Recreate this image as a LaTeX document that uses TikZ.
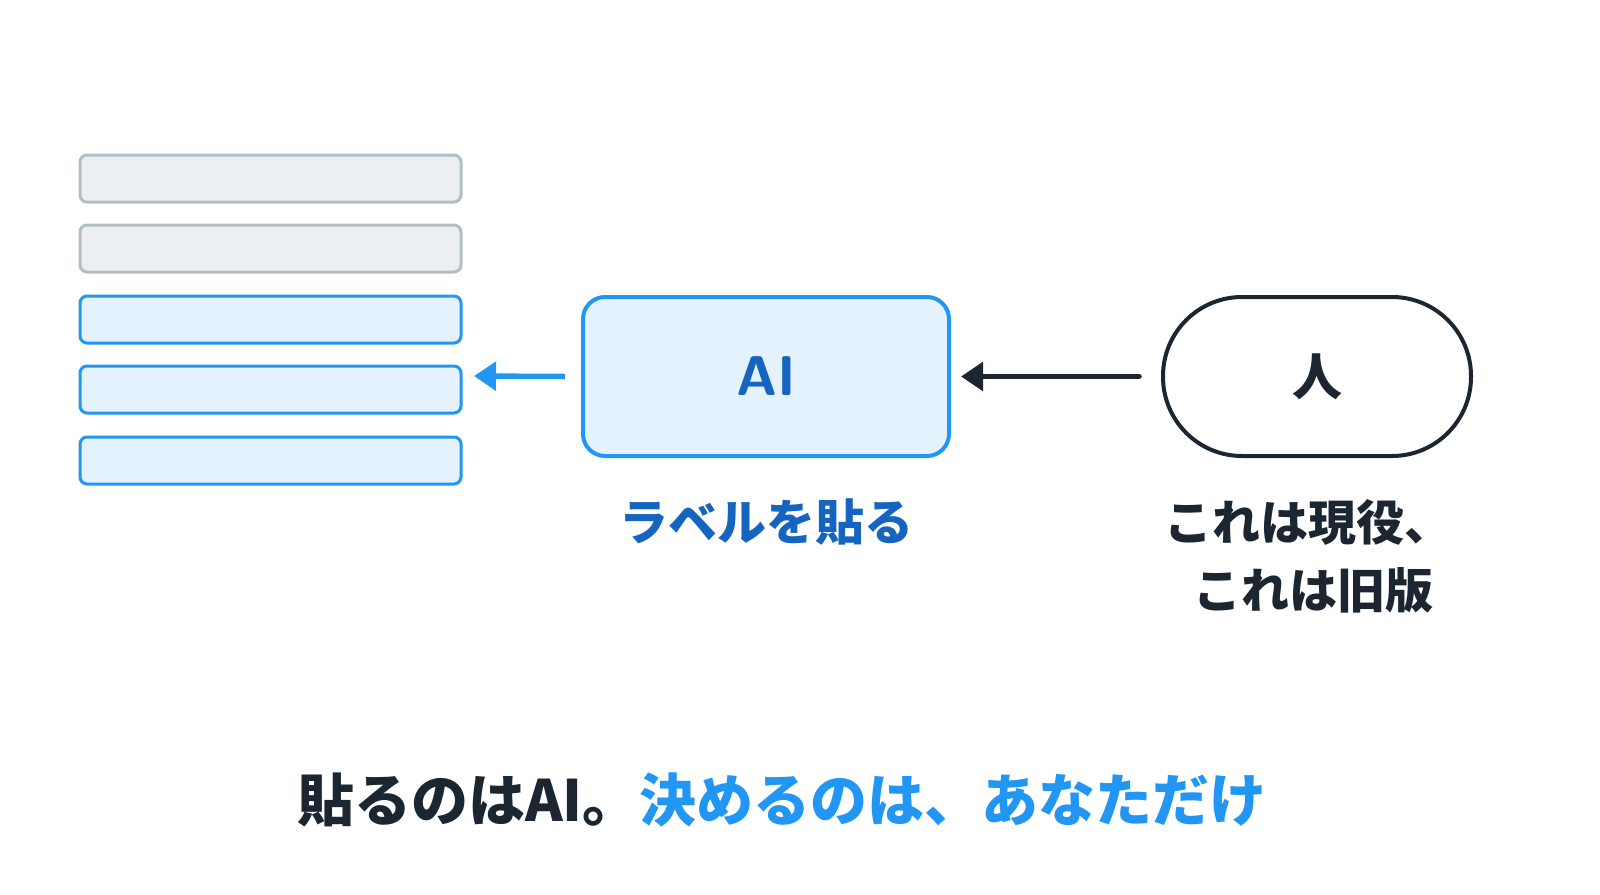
\documentclass[tikz,border=0pt]{standalone}
\usepackage{fontspec}
\newfontfamily\cjk{Noto Sans CJK JP}
\usetikzlibrary{arrows.meta}
\definecolor{gfill}{HTML}{ECEFF1}\definecolor{gline}{HTML}{B0BEC5}
\definecolor{bfill}{HTML}{E3F2FD}\definecolor{bline}{HTML}{2196F3}
\definecolor{dark}{HTML}{1B2631}\definecolor{dblue}{HTML}{1565C0}\definecolor{mblue}{HTML}{1E88E5}
\begin{document}
\begin{tikzpicture}[x=1pt,y=-1pt,
 gbar/.style={draw=gline,fill=gfill,line width=3pt,rounded corners=7pt},
 bbar/.style={draw=bline,fill=bfill,line width=3pt,rounded corners=7pt},
 txt/.style={font=\cjk\bfseries\fontsize{48}{68}\selectfont,align=center}]
\useasboundingbox (0,0) rectangle (1600,894);
\draw[gbar] (80,155) rectangle (461,202);
\draw[gbar] (80,225) rectangle (461,272);
\draw[bbar] (80,296) rectangle (461,343);
\draw[bbar] (80,366) rectangle (461,413);
\draw[bbar] (80,437) rectangle (461,484);
\coordinate (L) at (474,376);
\node[draw=bline,fill=bfill,line width=4pt,rounded corners=22pt,minimum width=366pt,minimum height=159pt,font=\sffamily\bfseries\fontsize{56}{60}\selectfont,text=dblue] (ai) at (766,376.5) {AI};
\node[draw=dark,fill=white,line width=4pt,rounded corners=79pt,minimum width=308pt,minimum height=159pt,font=\cjk\bfseries\fontsize{50}{60}\selectfont,text=dark] (hu) at (1317,376.5) {人};
\draw[bline,line width=5.5pt,-{Triangle[length=22pt,width=28pt]}] ([xshift=-16pt]ai.west) -- (L);
\draw[dark,line width=5.5pt,line cap=round,-{Triangle[length=22pt,width=28pt]}] ([xshift=-22pt]hu.west) -- ([xshift=10pt]ai.east);
\node[txt,text=dblue,font=\cjk\bfseries\fontsize{49}{60}\selectfont] (lab) at (766,522) {ラベルを貼る};
\node[txt,text=dark] (who) at (1308,556) {これは現役、\\\ これは旧版};
\node[font=\cjk\bfseries\fontsize{57}{66}\selectfont] (bot) at (782,800) {\color{dark}貼るのはAI。\color{bline}決めるのは、あなただけ};
\end{tikzpicture}
\end{document}
